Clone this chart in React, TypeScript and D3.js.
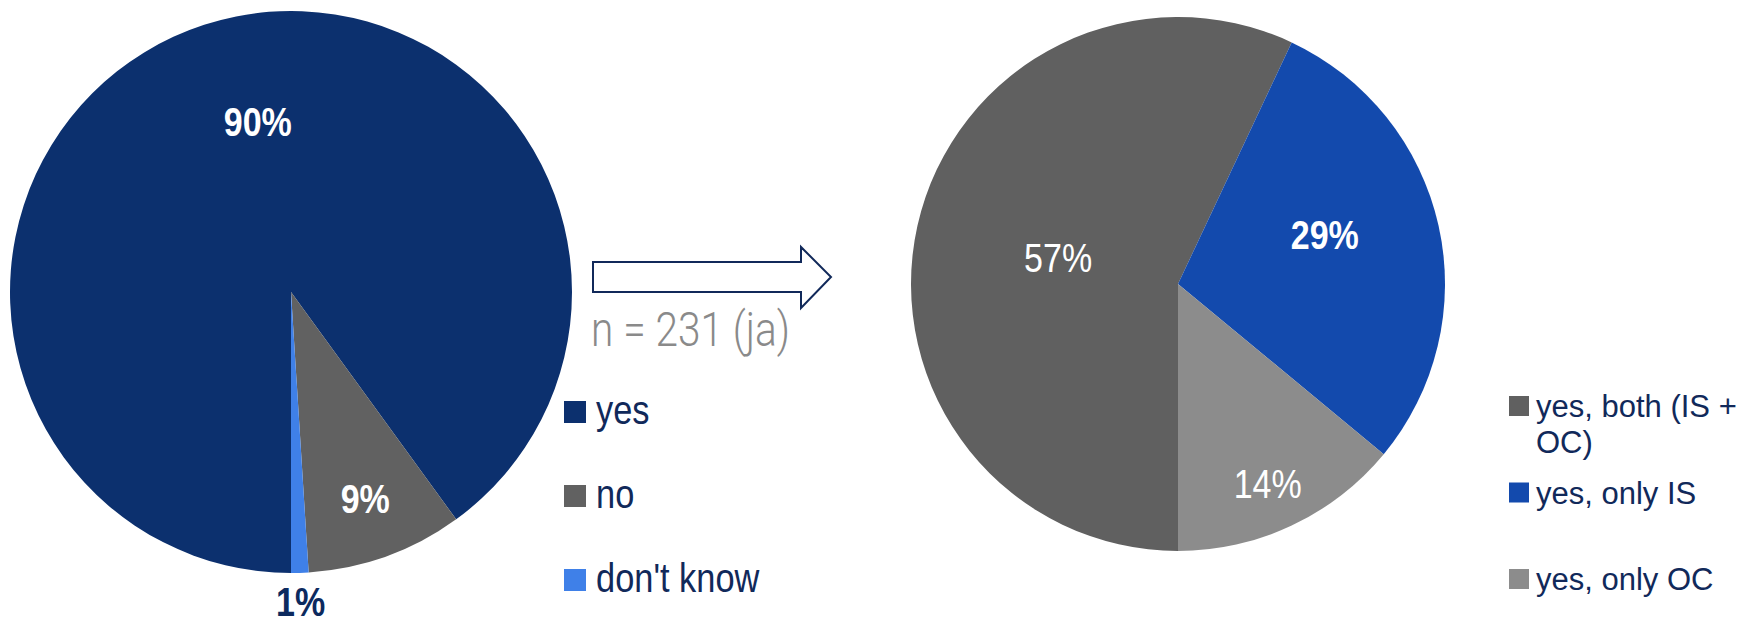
import React from "react";
import * as d3 from "d3";

// ---- data ----
const leftCategories = ["yes", "no", "don't know"];
const leftValues = [90, 9, 1];
const leftLabels = ["90%", "9%", "1%"];

const rightCategories = ["yes, both (IS + OC)", "yes, only IS", "yes, only OC"];
const rightValues = [57, 29, 14];
const rightLabels = ["57%", "29%", "14%"];

const sampleNote = "n = 231 (ja)";

// ---- styles / layout ----
const W = 1754;
const H = 624;
const NAVY_TEXT = "#11295a";
const leftColors = ["#0c306e", "#616161", "#3f80e8"];
const rightColors = ["#606060", "#134aad", "#8c8c8c"];
const leftLabelStyle = [
  { r: 0.62, da: 7, color: "#ffffff", weight: 700 },
  { r: 0.78, da: 0, color: "#ffffff", weight: 700 },
  { r: 1.1, da: 0, color: "#0c2a5e", weight: 700 },
];
const rightLabelStyle = [
  { r: 0.46, da: 0, color: "#ffffff", weight: 400 },
  { r: 0.58, da: -6, color: "#ffffff", weight: 700 },
  { r: 0.82, da: 1, color: "#ffffff", weight: 400 },
];

const LEFT = { cx: 291, cy: 292, r: 281 };
const RIGHT = { cx: 1178, cy: 284, r: 267 };

const FONT = "'Liberation Sans', Arial, sans-serif";

function wrapText(text: string, maxWidth: number, font: string): string[] {
  const canvas = document.createElement("canvas");
  const ctx = canvas.getContext("2d");
  if (!ctx) return [text];
  ctx.font = font;
  const words = text.split(" ");
  const lines: string[] = [];
  let cur = "";
  for (const w of words) {
    const test = cur ? cur + " " + w : w;
    if (ctx.measureText(test).width > maxWidth && cur) {
      lines.push(cur);
      cur = w;
    } else cur = test;
  }
  if (cur) lines.push(cur);
  return lines;
}

function Pie({ values, colors, labels, labelStyle, geo }: any) {
  const pie = d3
    .pie<number>()
    .sort(null)
    .startAngle(Math.PI)
    .endAngle(3 * Math.PI);
  const arcs = pie(values);
  const arc = d3.arc<d3.PieArcDatum<number>>().innerRadius(0).outerRadius(geo.r);
  return (
    <g transform={`translate(${geo.cx},${geo.cy})`}>
      {arcs.map((a, i) => (
        <path key={i} d={arc(a) || ""} fill={colors[i]} />
      ))}
      {arcs.map((a, i) => {
        const st = labelStyle[i];
        const mid = (a.startAngle + a.endAngle) / 2 + (st.da * Math.PI) / 180;
        const rr = geo.r * st.r;
        const x = Math.sin(mid) * rr;
        const y = -Math.cos(mid) * rr;
        return (
          <text
            key={"l" + i}
            transform={`translate(${x},${y}) scale(0.83,1)`}
            textAnchor="middle"
            dy="0.36em"
            fontFamily={FONT}
            fontSize={41}
            fontWeight={st.weight}
            fill={st.color}
          >
            {labels[i]}
          </text>
        );
      })}
    </g>
  );
}

export default function App() {
  const rightFont = `31px 'Liberation Sans', Arial, sans-serif`;
  const rightLines = rightCategories.map((c) => wrapText(c, 215, rightFont));

  const leftLegendY = d3.scalePoint<string>().domain(leftCategories).range([412, 580]);
  const rightLegendY = d3.scalePoint<string>().domain(rightCategories).range([406, 579]);

  return (
    <svg
      width={W}
      height={H}
      viewBox={`0 0 ${W} ${H}`}
      style={{ position: "absolute", left: 0, top: 0, background: "#ffffff" }}
    >
      <rect width={W} height={H} fill="#ffffff" />
      <Pie values={leftValues} colors={leftColors} labels={leftLabels} labelStyle={leftLabelStyle} geo={LEFT} />
      <Pie values={rightValues} colors={rightColors} labels={rightLabels} labelStyle={rightLabelStyle} geo={RIGHT} />

      {/* arrow */}
      <path
        d="M593,262 L801,262 L801,247 L831,277 L801,308 L801,292 L593,292 Z"
        fill="#ffffff"
        stroke={NAVY_TEXT}
        strokeWidth={2}
        strokeLinejoin="miter"
      />
      <text
        transform="translate(591,346) scale(0.845,1)"
        fontFamily="Roboto, 'Liberation Sans', sans-serif"
        fontWeight={300}
        fontSize={48}
        fill="#8a8a8a"
      >
        {sampleNote}
      </text>

      {/* left legend */}
      {leftCategories.map((c, i) => {
        const y = leftLegendY(c) as number;
        return (
          <g key={c}>
            <rect x={564} y={y - 11} width={22} height={22} fill={leftColors[i]} />
            <text
              transform={`translate(596,${y + 12}) scale(0.86,1)`}
              fontFamily={FONT}
              fontSize={40}
              fill={NAVY_TEXT}
            >
              {c}
            </text>
          </g>
        );
      })}

      {/* right legend */}
      {rightCategories.map((c, i) => {
        const y = rightLegendY(c) as number;
        return (
          <g key={c}>
            <rect x={1509} y={y - 10} width={20} height={20} fill={rightColors[i]} />
            <text fontFamily={FONT} fontSize={31} fill={NAVY_TEXT}>
              {rightLines[i].map((ln, j) => (
                <tspan key={j} x={1536} y={y + 11 + j * 36}>
                  {ln}
                </tspan>
              ))}
            </text>
          </g>
        );
      })}
    </svg>
  );
}
